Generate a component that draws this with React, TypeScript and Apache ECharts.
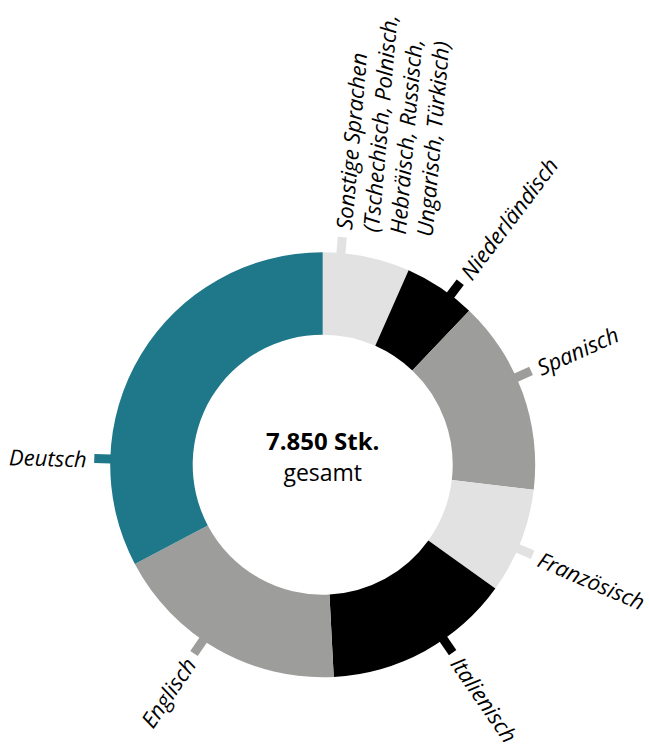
import React, { useEffect, useRef } from "react";
import * as echarts from "echarts";

// ---- data ----
const categories = [
  "Sonstige Sprachen\n(Tschechisch, Polnisch,\nHebräisch, Russisch,\nUngarisch, Türkisch)",
  "Niederländisch",
  "Spanisch",
  "Französisch",
  "Italienisch",
  "Englisch",
  "Deutsch",
];
const values = [520, 430, 1160, 630, 1120, 1420, 2570];
const colors = ["#e2e2e2", "#000000", "#9d9d9c", "#e2e2e2", "#000000", "#9d9d9c", "#1f7889"];
const centerUnit = "Stk.";
const centerCaption = "gesamt";

// ---- layout (not data) ----
const W = 649;
const H = 752;
const CX = 322.7;
const CY = 464.7;
const R_IN = 130;
const R_OUT = 212.5;
const TICK_END = 228.5;
const TICK_W = 9;
const TEXT_R = 236;
const LABEL_FS = 22;
const LH = 27;
const labelNudgeDeg = [-7, 3.3, -4.4, 2, -6, 4.7, -29.5];
const FONT = '"Open Sans", "Noto Sans", sans-serif';

export default function App() {
  const ref = useRef<HTMLDivElement>(null);
  useEffect(() => {
    if (!ref.current) return;
    const chart = echarts.init(ref.current, undefined, { renderer: "svg" });
    const total = values.reduce((a, b) => a + b, 0);
    const graphics: any[] = [];
    let cum = 0;
    values.forEach((v, i) => {
      const a0 = (cum / total) * 360;
      cum += v;
      const a1 = (cum / total) * 360;
      const thetaDeg = (a0 + a1) / 2 + labelNudgeDeg[i];
      const t = (thetaDeg * Math.PI) / 180;
      const sx = Math.sin(t);
      const sy = -Math.cos(t);
      graphics.push({
        type: "line",
        silent: true,
        shape: {
          x1: CX + (R_OUT - 1) * sx,
          y1: CY + (R_OUT - 1) * sy,
          x2: CX + TICK_END * sx,
          y2: CY + TICK_END * sy,
        },
        style: { stroke: colors[i], lineWidth: TICK_W, lineCap: "butt" },
      });
      const right = thetaDeg < 180;
      const rotDeg = right ? 90 - thetaDeg : 270 - thetaDeg;
      graphics.push({
        type: "group",
        x: CX + TEXT_R * sx,
        y: CY + TEXT_R * sy,
        rotation: (rotDeg * Math.PI) / 180,
        children: [
          {
            type: "text",
            x: 0,
            y: -LH / 2,
            silent: true,
            style: {
              text: categories[i],
              align: right ? "left" : "right",
              verticalAlign: "top",
              lineHeight: LH,
              fontSize: LABEL_FS,
              fontStyle: "italic",
              fontFamily: FONT,
              fill: "#000",
            },
          },
        ],
      });
    });
    const totalText = total.toLocaleString("de-DE");
    graphics.push({
      type: "text",
      x: CX,
      y: CY - 24,
      silent: true,
      style: {
        text: `${totalText} ${centerUnit}`,
        align: "center",
        verticalAlign: "middle",
        fontSize: 24,
        fontWeight: "bold",
        fontFamily: FONT,
        fill: "#000",
      },
    });
    graphics.push({
      type: "text",
      x: CX,
      y: CY + 7,
      silent: true,
      style: {
        text: centerCaption,
        align: "center",
        verticalAlign: "middle",
        fontSize: 23,
        fontFamily: FONT,
        fill: "#000",
      },
    });

    chart.setOption({
      animation: false,
      backgroundColor: "#ffffff",
      series: [
        {
          type: "pie",
          center: [CX, CY],
          radius: [R_IN, R_OUT],
          startAngle: 90,
          clockwise: true,
          silent: true,
          avoidLabelOverlap: false,
          label: { show: false },
          labelLine: { show: false },
          emphasis: { disabled: true },
          itemStyle: { borderWidth: 0 },
          data: categories.map((c, i) => ({
            name: c,
            value: values[i],
            itemStyle: { color: colors[i] },
          })),
        },
      ],
      graphic: graphics,
    });
    return () => chart.dispose();
  }, []);
  return (
    <div
      ref={ref}
      style={{ position: "fixed", left: 0, top: 0, width: W, height: H }}
    />
  );
}
